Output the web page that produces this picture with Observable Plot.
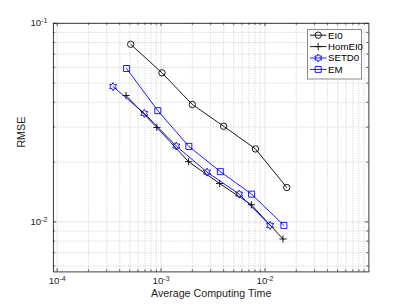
<!DOCTYPE html>
<html><head><meta charset="utf-8">
<script src="https://cdn.jsdelivr.net/npm/d3@7"></script>
<script src="https://cdn.jsdelivr.net/npm/@observablehq/plot@0.6"></script>
<style>
html,body{margin:0;padding:0;background:#fff;}
#wrap{position:relative;width:407px;height:305px;font-family:"Liberation Sans",Arial,Helvetica,sans-serif;}
#legend{position:absolute;left:306.8px;top:28.8px;}
</style></head><body><div id="wrap"></div>
<script>
// ---- data ----
const seriesNames = ["EI0", "HomEI0", "SETD0", "EM"];
const timeEI0 = [5.1e-4, 1.02e-3, 2.0e-3, 4.0e-3, 8.1e-3, 1.62e-2];
const rmseEI0 = [0.0784, 0.0563, 0.0390, 0.0303, 0.0233, 0.0149];
const timeHomEI0 = [4.6e-4, 9.1e-4, 1.84e-3, 3.66e-3, 7.4e-3, 1.49e-2];
const rmseHomEI0 = [0.0433, 0.0299, 0.0201, 0.0156, 0.0122, 0.0082];
const timeSETD0 = [3.45e-4, 6.9e-4, 1.40e-3, 2.77e-3, 5.65e-3, 1.12e-2];
const rmseSETD0 = [0.0480, 0.0352, 0.0241, 0.0178, 0.0138, 0.0096];
const timeEM = [4.66e-4, 9.3e-4, 1.85e-3, 3.72e-3, 7.43e-3, 1.52e-2];
const rmseEM = [0.0592, 0.0363, 0.0240, 0.0179, 0.0138, 0.0096];

const xTickValues = [1e-4, 1e-3, 1e-2];
const xTickLabels = ["10^-4", "10^-3", "10^-2"];
const yTickValues = [1e-2, 1e-1];
const yTickLabels = ["10^-2", "10^-1"];
const xLabel = "Average Computing Time";
const yLabel = "RMSE";
const xDomain = [9.2e-5, 1e-1];
const yDomain = [5.6e-3, 1e-1];

// ---- styles ----
const W = 407, H = 305, mL = 52.9, mR = 38.6, mT = 22.8, mB = 33.6;
const innerW = W - mL - mR, innerH = H - mT - mB;
const axisColor = "#262626";
const black = "#000000", blue = "#0000ff";

const symbols = {
  circle: {draw(c, s) { const r = Math.sqrt(s / Math.PI); c.moveTo(r, 0); c.arc(0, 0, r, 0, 2 * Math.PI); }},
  plus: {draw(c, s) { const r = Math.sqrt(s / Math.PI); c.moveTo(-r, 0); c.lineTo(r, 0); c.moveTo(0, -r); c.lineTo(0, r); }},
  square: {draw(c, s) { const r = Math.sqrt(s / Math.PI); c.moveTo(-r, -r); c.lineTo(r, -r); c.lineTo(r, r); c.lineTo(-r, r); c.closePath(); }},
  hexagram: {draw(c, s) {
    const R = Math.sqrt(s / Math.PI), ri = R / Math.sqrt(3);
    for (let i = 0; i < 12; i++) {
      const a = -Math.PI / 2 + i * Math.PI / 6, rr = i % 2 ? ri : R;
      const x = rr * Math.cos(a), y = rr * Math.sin(a);
      if (i) c.lineTo(x, y); else c.moveTo(x, y);
    }
    c.closePath();
  }}
};

const series = [
  {name: seriesNames[0], t: timeEI0, r: rmseEI0, color: black, sym: symbols.circle, size: 3.2},
  {name: seriesNames[1], t: timeHomEI0, r: rmseHomEI0, color: black, sym: symbols.plus, size: 3.6},
  {name: seriesNames[2], t: timeSETD0, r: rmseSETD0, color: blue, sym: symbols.hexagram, size: 4.0},
  {name: seriesNames[3], t: timeEM, r: rmseEM, color: blue, sym: symbols.square, size: 3.0}
];

const minorX = [], minorY = [];
for (let k = -5; k <= -1; k++) for (let m = 2; m <= 9; m++) {
  const v = m * Math.pow(10, k);
  if (v > xDomain[0] && v < xDomain[1]) minorX.push(v);
  if (v > yDomain[0] && v < yDomain[1]) minorY.push(v);
}
const majorLen = 3.2, minorLen = 2.0;

const dataMarks = [];
for (const s of series) {
  const rows = s.t.map((t, i) => ({time: t, rmse: s.r[i]}));
  dataMarks.push(Plot.line(rows, {x: "time", y: "rmse", stroke: s.color, strokeWidth: 0.9}));
  dataMarks.push(Plot.dot(rows, {x: "time", y: "rmse", stroke: s.color, fill: "none", strokeWidth: 0.9, symbol: s.sym, r: s.size}));
}

const chart = Plot.plot({
  width: W, height: H,
  marginLeft: mL, marginRight: mR, marginTop: mT, marginBottom: mB,
  x: {type: "log", domain: xDomain, axis: null},
  y: {type: "log", domain: yDomain, axis: null},
  style: {fontFamily: '"Liberation Sans", Arial, Helvetica, sans-serif', fontSize: "9.7px", color: axisColor, background: "#fff"},
  marks: [
    Plot.ruleX(minorX, {stroke: axisColor, strokeOpacity: 0.28, strokeWidth: 0.8, strokeDasharray: "1,1.5"}),
    Plot.ruleY(minorY, {stroke: axisColor, strokeOpacity: 0.28, strokeWidth: 0.8, strokeDasharray: "1,1.5"}),
    Plot.ruleX(xTickValues, {stroke: axisColor, strokeOpacity: 0.15, strokeWidth: 0.8}),
    Plot.ruleY(yTickValues, {stroke: axisColor, strokeOpacity: 0.15, strokeWidth: 0.8}),
    ...dataMarks,
    Plot.ruleX(xTickValues, {stroke: axisColor, strokeWidth: 0.8, insetTop: innerH - majorLen}),
    Plot.ruleX(xTickValues, {stroke: axisColor, strokeWidth: 0.8, insetBottom: innerH - majorLen}),
    Plot.ruleX(minorX, {stroke: axisColor, strokeWidth: 0.8, insetTop: innerH - minorLen}),
    Plot.ruleX(minorX, {stroke: axisColor, strokeWidth: 0.8, insetBottom: innerH - minorLen}),
    Plot.ruleY(yTickValues, {stroke: axisColor, strokeWidth: 0.8, insetRight: innerW - majorLen}),
    Plot.ruleY(yTickValues, {stroke: axisColor, strokeWidth: 0.8, insetLeft: innerW - majorLen}),
    Plot.ruleY(minorY, {stroke: axisColor, strokeWidth: 0.8, insetRight: innerW - minorLen}),
    Plot.ruleY(minorY, {stroke: axisColor, strokeWidth: 0.8, insetLeft: innerW - minorLen}),
    Plot.frame({stroke: axisColor, strokeWidth: 0.9}),
    Plot.text(xTickValues, {x: d => d, text: (d, i) => xTickLabels[i], frameAnchor: "bottom", dy: 12.5, fill: axisColor, className: "supx"}),
    Plot.text(yTickValues, {y: d => d, text: (d, i) => yTickLabels[i], frameAnchor: "left", dx: -6, textAnchor: "end", fill: axisColor, className: "supy"}),
    Plot.text([xLabel], {text: d => d, frameAnchor: "bottom", dy: 24.8, fontSize: 10.7, fill: axisColor}),
    Plot.text([yLabel], {text: d => d, frameAnchor: "left", dx: -32.2, dy: 0, rotate: -90, fontSize: 10.7, fill: axisColor})
  ]
});

// superscript exponents in tick labels
chart.querySelectorAll(".supx text, .supy text").forEach(t => {
  const s = t.textContent, parts = s.split("^");
  if (parts.length !== 2) return;
  t.textContent = "";
  const a = document.createElementNS("http://www.w3.org/2000/svg", "tspan");
  a.textContent = parts[0];
  const b = document.createElementNS("http://www.w3.org/2000/svg", "tspan");
  b.textContent = parts[1];
  b.setAttribute("dy", "-0.5em");
  b.setAttribute("font-size", "7px");
  t.appendChild(a); t.appendChild(b);
});

const wrap = document.getElementById("wrap");
wrap.appendChild(chart);

// legend (inside the axes, top right)
const lw = 55, lh = 50.5, rowH = 11.4, row0 = 6.2;
const leg = d3.select(wrap).append("svg").attr("id", "legend").attr("width", lw + 1).attr("height", lh + 1);
leg.append("rect").attr("x", 0.5).attr("y", 0.5).attr("width", lw - 1).attr("height", lh - 1)
  .attr("fill", "#fff").attr("stroke", "#8a8a8a").attr("stroke-width", 1);
series.forEach((s, i) => {
  const y = row0 + i * rowH;
  const g = leg.append("g");
  g.append("line").attr("x1", 3).attr("x2", 19.5).attr("y1", y).attr("y2", y).attr("stroke", s.color).attr("stroke-width", 0.9);
  const p = d3.path();
  s.sym.draw(p, s.size * s.size * Math.PI);
  g.append("path").attr("d", p.toString()).attr("transform", `translate(11.2,${y})`)
    .attr("fill", "none").attr("stroke", s.color).attr("stroke-width", 0.9);
  g.append("text").attr("x", 21).attr("y", y).attr("dy", "0.35em")
    .attr("font-size", "9.7px").attr("font-family", '"Liberation Sans", Arial, Helvetica, sans-serif')
    .attr("fill", "#000").text(s.name);
});
</script>
</body></html>
